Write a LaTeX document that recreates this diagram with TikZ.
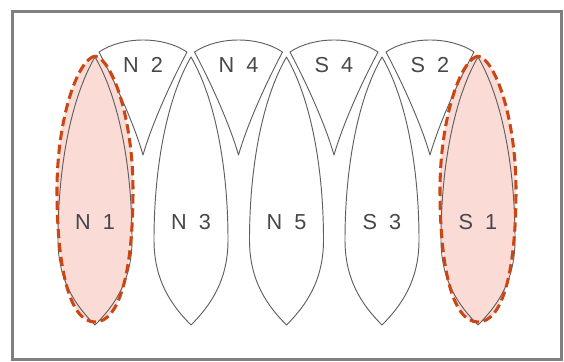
\documentclass[tikz,border=0pt]{standalone}
\usepackage{fontspec}
\setmainfont{Liberation Sans}
\usetikzlibrary{positioning}

\definecolor{poleline}{RGB}{95,95,95}
\definecolor{polered}{RGB}{204,70,20}
\definecolor{polepink}{RGB}{251,219,214}
\definecolor{poletext}{RGB}{70,70,78}

\tikzset{
	pole/.style={draw=poleline,line width=0.8pt,line join=round},
	marked/.style={draw=polered,line width=2.6pt,dash pattern=on 8pt off 4pt},
	polelabel/.style={text=poletext,font=\fontsize{18.5}{22}\selectfont,inner sep=0pt}
}

\begin{document}
\begin{tikzpicture}[x=0.03cm,y=-0.03cm]
				\useasboundingbox (0,0) rectangle (564,361);
				\draw [line width=2pt,draw=black!50] (12.5,11.5) rectangle (561.5,359.5);
				% pink under the two end poles
				\foreach \c in {95,478} \fill [polepink,shift={(\c,0)}] (0,56) .. controls (-18,60) and (-38,120) .. (-38,190) .. controls (-38,270) and (-25,322) .. (0,322) .. controls (25,322) and (38,270) .. (38,190) .. controls (38,120) and (18,60) .. cycle;
				% long poles
				\foreach \c in {95,191,286.5,382,478} \draw [pole,shift={(\c,0)}] (0,57) .. controls (-25,100) and (-37,170) .. (-37,240) .. controls (-37,280) and (-20,305) .. (0,325) .. controls (20,305) and (37,280) .. (37,240) .. controls (37,170) and (25,100) .. cycle;
				% short poles between them
				\foreach \c in {143,238.5,334,430} \draw [pole,shift={(\c,0)}] (-44,52) .. controls (-20,36) and (20,36) .. (44,52) .. controls (25,88) and (8,127) .. (0,155) .. controls (-8,127) and (-25,88) .. cycle;
				\foreach \c in {95,478} \draw [marked,shift={(\c,0)}] (0,56) .. controls (-18,60) and (-38,120) .. (-38,190) .. controls (-38,270) and (-25,322) .. (0,322) .. controls (25,322) and (38,270) .. (38,190) .. controls (38,120) and (18,60) .. cycle;
				\foreach \x/\p/\k in {95/N/1,191/N/3,286.5/N/5,382/S/3,478/S/1} \node [polelabel] (\p\k) at (\x,222) {\p\ \ \k};
				\foreach \x/\p/\k in {143/N/2,238.5/N/4,334/S/4,430/S/2} \node [polelabel] (\p\k) at (\x,65) {\p\ \ \k};
			\end{tikzpicture}
\end{document}
